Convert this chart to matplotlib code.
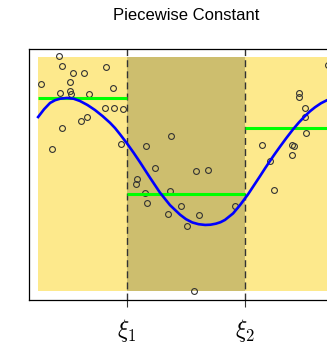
import matplotlib
matplotlib.use("Agg")
import matplotlib.pyplot as plt
from matplotlib.patches import Rectangle

plt.rcParams['mathtext.fontset'] = 'cm'

# knots and region edges (data units)
knots = [3.12, 6.88]
region_edges = [0.29, 3.12, 6.88, 9.71]
region_colors = ['#FDE98C', '#CDBE6E', '#FDE98C']
shade_ymin, shade_ymax = 0.36, 9.68

# observed points
x_pts = [0.96, 1.05, 1.40, 1.75, 2.45, 0.38, 1.31, 2.68, 0.99, 1.31,
         1.34, 1.91, 2.42, 2.71, 2.99, 1.66, 1.85, 1.05, 0.73, 2.93,
         3.73, 4.52, 4.01, 5.32, 5.70, 3.44, 3.41, 3.69, 4.49, 3.76,
         4.84, 4.43, 5.41, 6.56, 5.03, 5.25,
         7.42, 7.68, 7.80, 8.38, 8.44, 8.38, 8.82, 8.79, 8.79, 8.60,
         8.60, 9.52]
y_pts = [9.72, 9.32, 9.04, 9.04, 9.28, 8.61, 8.69, 8.45, 8.25, 8.33,
         8.21, 8.21, 7.65, 7.65, 7.61, 7.13, 7.29, 6.85, 6.02, 6.22,
         6.14, 6.53, 5.26, 5.14, 5.18, 4.82, 4.62, 4.26, 4.34, 3.86,
         3.75, 3.43, 3.39, 3.75, 2.95, 0.36,
         6.18, 5.54, 4.38, 6.18, 6.14, 5.78, 6.65, 7.29, 7.65, 8.25,
         8.09, 9.36]

# true function (blue curve)
x_curve = [0.29, 0.48, 0.67, 0.83, 0.99, 1.21, 1.42, 1.62, 1.86, 2.10,
           2.34, 2.58, 2.74, 2.90, 3.12, 3.33, 3.54, 3.85, 4.17, 4.49,
           4.81, 5.00, 5.20, 5.40, 5.61, 5.78, 5.95, 6.10, 6.24, 6.50,
           6.72, 6.97, 7.16, 7.36, 7.52, 7.68, 7.84, 8.00, 8.20, 8.41,
           8.60, 8.79, 8.95, 9.11, 9.30, 9.49, 9.70, 9.90]
y_curve = [7.29, 7.60, 7.85, 7.96, 8.02, 8.05, 8.02, 7.93, 7.77, 7.57,
           7.33, 7.06, 6.85, 6.60, 6.24, 5.87, 5.48, 4.88, 4.28, 3.78,
           3.40, 3.22, 3.09, 3.02, 2.99, 3.00, 3.04, 3.10, 3.19, 3.45,
           3.78, 4.20, 4.56, 4.94, 5.25, 5.55, 5.84, 6.12, 6.46, 6.80,
           7.08, 7.33, 7.52, 7.68, 7.84, 7.96, 8.06, 8.12]

# piecewise constant fit
step_levels = [8.05, 4.22, 6.85]

fig = plt.figure(figsize=(3.27, 3.44), dpi=100)
ax = fig.add_axes([29 / 327, 44 / 344, 314 / 327, 251 / 344])
ax.set_xlim(0, 10)
ax.set_ylim(0, 10)

for i in range(3):
    ax.add_patch(Rectangle((region_edges[i], shade_ymin),
                           region_edges[i + 1] - region_edges[i],
                           shade_ymax - shade_ymin,
                           facecolor=region_colors[i], edgecolor='none', zorder=0))

for k in knots:
    ax.axvline(k, color='#333333', lw=1.0, ls=(0, (5, 3)), zorder=1)

ax.plot(x_pts, y_pts, 'o', mfc='none', mec='#333333', ms=4.2, mew=0.8, zorder=2)

for i in range(3):
    ax.plot([region_edges[i], region_edges[i + 1]], [step_levels[i]] * 2,
            color='#00FF00', lw=2.2, solid_capstyle='butt', zorder=3)

ax.plot(x_curve, y_curve, color='#0000FF', lw=1.9, zorder=4)

ax.set_xticks(knots)
ax.set_xticklabels([r'$\xi_1$', r'$\xi_2$'], fontsize=17)
ax.tick_params(axis='x', length=5, width=0.8, pad=7, color='#333333')
ax.set_yticks([])
for s in ax.spines.values():
    s.set_linewidth(0.9)

fig.text(186 / 327, 1 - 16 / 344, 'Piecewise Constant', ha='center', va='center',
         fontsize=12, family='Liberation Sans')

fig.savefig('out.png', dpi=100)
